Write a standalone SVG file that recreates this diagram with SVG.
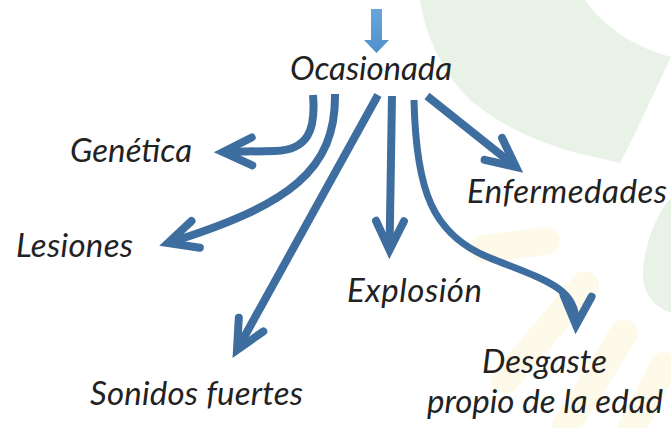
<svg xmlns="http://www.w3.org/2000/svg" width="671" height="428" viewBox="0 0 671 428">
  <defs>
    <style>
      .lbl { font-family: Lato, "Liberation Serif", serif; font-style: italic; font-weight: 400; font-size: 33px; fill: #222; }
      .con { fill: none; stroke: #3e6e9f; stroke-width: 8; stroke-linecap: butt; stroke-linejoin: round; }
      .bg-green { fill: #e8f2e6; }
      .bg-yellow { fill: none; stroke: #fefaea; stroke-width: 28; stroke-linecap: round; }
    </style>
    <linearGradient id="topGrad" x1="0" y1="0" x2="0" y2="1">
      <stop offset="0" stop-color="#6aa5dc"/>
      <stop offset="1" stop-color="#4f8fcb"/>
    </linearGradient>
    <marker id="ah" markerUnits="userSpaceOnUse" viewBox="-40 -30 60 60" markerWidth="60" markerHeight="60" refX="0" refY="0" orient="auto" overflow="visible">
      <path d="M-29,-14 L0,0 L-29,14" fill="none" stroke="#3e6e9f" stroke-width="8" stroke-linejoin="miter" stroke-linecap="round"/>
    </marker>
  </defs>

  <rect width="671" height="428" fill="#ffffff"/>

  <g id="background">
    <path class="bg-green" d="M420,0 C424,30 440,70 470,100 C500,125 540,145 590,156 L620,163 C640,125 655,90 671,57 C645,50 610,35 585,0 Z"/>
    <path class="bg-green" d="M671,198 C655,215 645,245 643,270 C642,290 650,305 671,313 Z"/>
    <path class="bg-yellow" d="M484,249 L546,241"/>
    <path class="bg-yellow" d="M585,285 L505,380"/>
    <path class="bg-yellow" d="M624,333 L565,428"/>
    <path class="bg-yellow" d="M664,366 L632,428"/>
  </g>

  <g id="top-arrow">
    <polygon points="371,9 382,9 382,40 389,40 376.5,53 364,40 371,40" fill="url(#topGrad)"/>
  </g>

  <g id="connectors">
    <path class="con" marker-end="url(#ah)" d="M313,95 C316,130 308,150 275,151 L223,152"/>
    <path class="con" marker-end="url(#ah)" d="M335,94 C336,170 290,205 168,243"/>
    <path class="con" marker-end="url(#ah)" d="M378,95 L237,350"/>
    <path class="con" marker-end="url(#ah)" d="M392,96 L389.5,250"/>
    <path class="con" marker-end="url(#ah)" d="M427,96 L516,167"/>
    <path class="con" style="stroke-width:7" marker-end="url(#ah)" d="M414,100 C416,190 432,235 490,258 C545,280 578,288 576,325"/>
  </g>

  <g id="node-ocasionada"><text class="lbl" x="290" y="80" textLength="162">Ocasionada</text></g>
  <g id="node-genetica"><text class="lbl" x="70" y="162" textLength="122">Genética</text></g>
  <g id="node-lesiones"><text class="lbl" x="16" y="257" textLength="117">Lesiones</text></g>
  <g id="node-sonidos"><text class="lbl" x="90" y="405" textLength="213">Sonidos fuertes</text></g>
  <g id="node-explosion"><text class="lbl" x="347" y="302" textLength="135">Explosión</text></g>
  <g id="node-enfermedades"><text class="lbl" x="467" y="203" textLength="200">Enfermedades</text></g>
  <g id="node-desgaste">
    <text class="lbl" x="482" y="373" textLength="125">Desgaste</text>
    <text class="lbl" x="427" y="413" textLength="236">propio de la edad</text>
  </g>
</svg>
